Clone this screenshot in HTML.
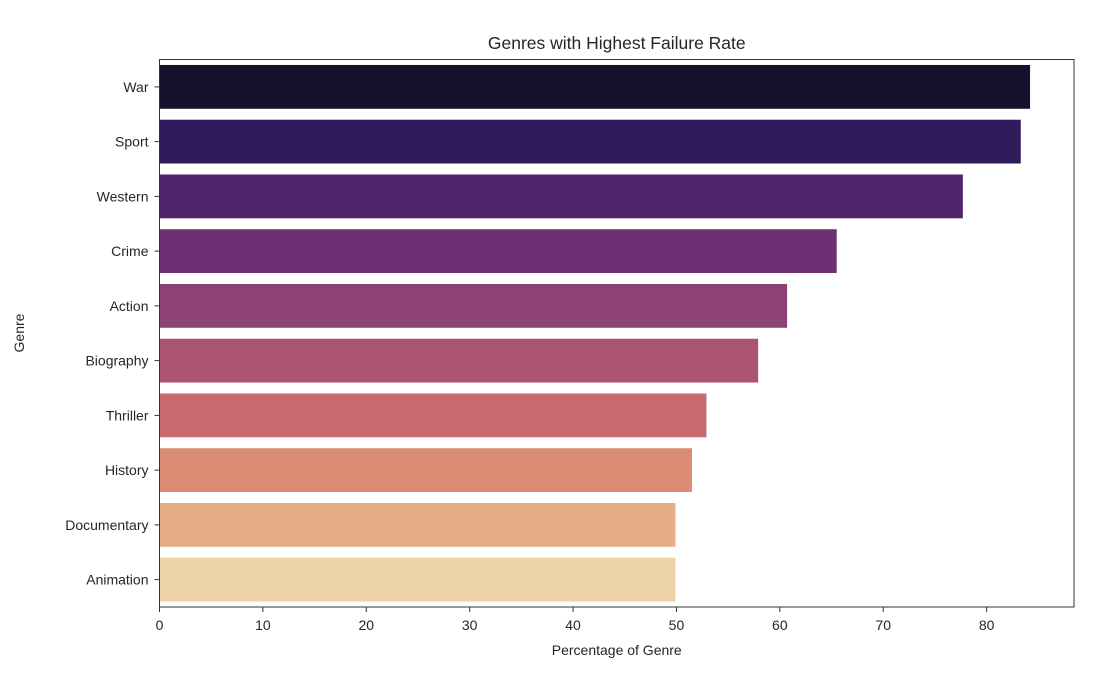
<!DOCTYPE html>
<html><head><meta charset="utf-8"><style>
body{margin:0;background:#fff;width:1112px;height:692px;overflow:hidden}
text{font-family:"Liberation Sans","DejaVu Sans",sans-serif;fill:#262626}
</style></head><body>
<svg id="chart" width="1112" height="692" xmlns="http://www.w3.org/2000/svg">
<text x="616.75" y="49" text-anchor="middle" font-size="17.5">Genres with Highest Failure Rate</text>
<text x="616.75" y="655" text-anchor="middle" font-size="14">Percentage of Genre</text>
<text transform="translate(24,333) rotate(-90)" text-anchor="middle" font-size="14">Genre</text>
<g id="bars"></g><g id="axes"></g>
</svg>
<script>
const genres=["War","Sport","Western","Crime","Action","Biography","Thriller","History","Documentary","Animation"];
const values=[84.2,83.3,77.7,65.5,60.7,57.9,52.9,51.5,49.9,49.9];
const colors=["#15122d","#2f1a5b","#50246d","#6d3173","#8c4274","#ab5470","#c86b6e","#d98b73","#e5ae86","#ecd2a6"];
const xTicks=[0,10,20,30,40,50,60,70,80];
const L=159.5,T=59.5,W=914.5,H=547.5,xMax=88.45;
const ns="http://www.w3.org/2000/svg";
const xs=v=>L+v/xMax*W;
const band=H/genres.length;
const ys=i=>T+band*i;
const bars=document.getElementById('bars'),axes=document.getElementById('axes');
function mk(tag,attrs,parent){const e=document.createElementNS(ns,tag);for(const k in attrs)e.setAttribute(k,attrs[k]);parent.appendChild(e);return e;}
genres.forEach((g,i)=>{
 const r=mk('rect',{x:xs(0),y:ys(i)+band*0.1,width:xs(values[i])-xs(0),height:band*0.8,fill:colors[i]},bars);
 
 
 const cy=ys(i)+band/2;
 mk('line',{x1:L-5,x2:L,y1:cy,y2:cy,stroke:'#333','stroke-width':1},axes);
 const t=mk('text',{x:L-11,y:cy+5,'text-anchor':'end','font-size':14},axes);
 t.textContent=g;
 
 
});
xTicks.forEach(v=>{
 const x=xs(v);
 mk('line',{x1:x,x2:x,y1:T+H,y2:T+H+5,stroke:'#333','stroke-width':1},axes);
 const t=mk('text',{x:x,y:T+H+23,'text-anchor':'middle','font-size':14},axes);
 t.textContent=v;
 
 
});
const f=mk('rect',{x:L,y:T,width:W,height:H,fill:'none',stroke:'#333','stroke-width':1},axes);


</script>
</body></html>
